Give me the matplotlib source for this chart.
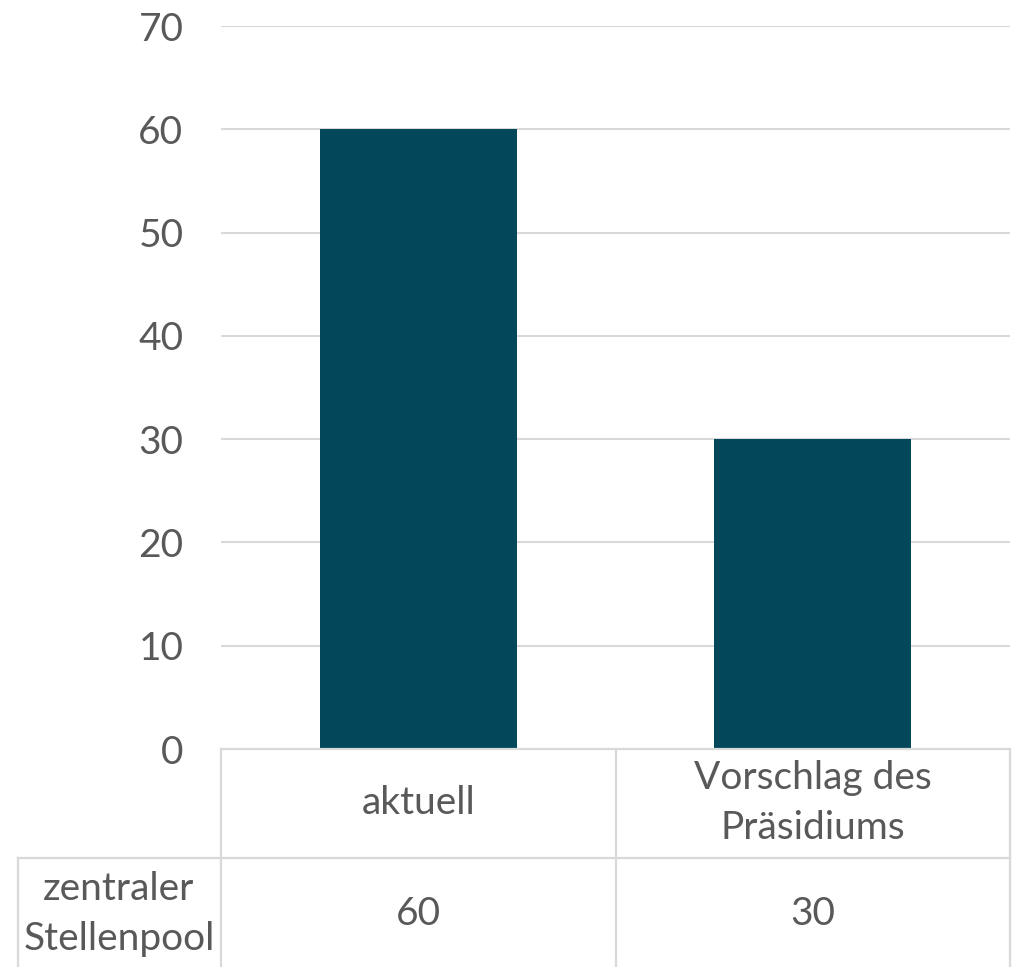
import matplotlib.pyplot as plt
from matplotlib.lines import Line2D

# Daten
kategorien = ['aktuell', 'Vorschlag des\nPräsidiums']
werte = [60, 30]
reihe = 'zentraler\nStellenpool'
y_ticks = [0, 10, 20, 30, 40, 50, 60, 70]

plt.rcParams['font.family'] = ['Lato', 'DejaVu Sans']
grau = '#595959'
linie = '#d9d9d9'

W, H = 1015, 967
fig = plt.figure(figsize=(W / 100, H / 100), dpi=100)
ax = fig.add_axes([221 / W, 1 - 749 / H, 789 / W, 723 / H])

x = range(len(werte))
ax.bar(x, werte, width=0.5, color='#02475a', zorder=3)
ax.set_xlim(-0.5, len(werte) - 0.5)
ax.set_ylim(0, 70)
ax.set_yticks(y_ticks)
ax.tick_params(axis='y', length=0, pad=27, labelsize=28, labelcolor=grau)
ax.set_xticks([])
ax.yaxis.grid(True, color=linie, linewidth=1.5, zorder=0)
for s in ['top', 'right', 'left', 'bottom']:
    ax.spines[s].set_visible(False)


# Datentabelle (Pixelkoordinaten -> Figurkoordinaten)
def px(x0, y0, x1, y1):
    fig.add_artist(Line2D([x0 / W, x1 / W], [1 - y0 / H, 1 - y1 / H],
                          color=linie, linewidth=1.6))


px(221, 749, 1010, 749)
px(18, 858, 1010, 858)
for xv in [221, 616, 1010]:
    px(xv, 749, xv, 967)
px(18, 858, 18, 967)

trans = ax.get_xaxis_transform()
for i, (k, v) in enumerate(zip(kategorien, werte)):
    ax.text(i, -54 / 723, k, transform=trans, ha='center', va='center',
            fontsize=28, color=grau, linespacing=1.45, clip_on=False)
    ax.text(i, -165 / 723, str(v), transform=trans, ha='center', va='center',
            fontsize=28, color=grau, clip_on=False)
fig.text(119 / W, 1 - 914 / H, reihe, ha='center', va='center',
         fontsize=28, color=grau, linespacing=1.45)

fig.savefig('out.png', dpi=100)
